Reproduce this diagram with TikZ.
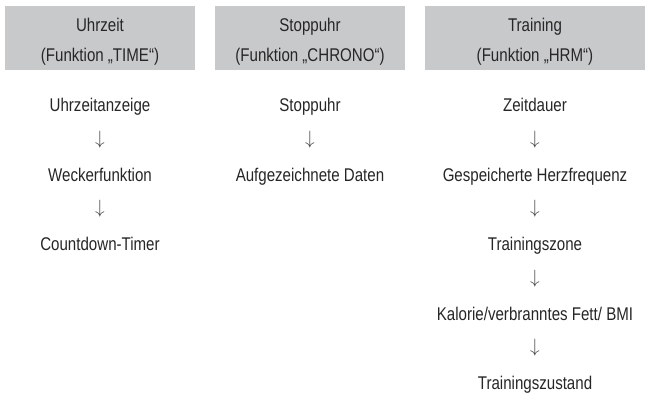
\documentclass[tikz,border=0pt]{standalone}
\usepackage{fontspec}
\setmainfont{Liberation Sans}[FakeStretch=0.82]
\definecolor{hdr}{HTML}{C8C9CA}
\definecolor{txt}{HTML}{262626}
\begin{document}
\begin{tikzpicture}[x=0.75pt,y=-0.75pt,
  lbl/.style={font=\fontsize{13.8}{16}\selectfont, text=txt, inner sep=0pt, anchor=base},
  arr/.style={font=\fontsize{14}{16}\selectfont, text=txt!85, inner sep=0pt, anchor=center},
  hbox/.style={fill=hdr, draw=none}]
\useasboundingbox (0,0) rectangle (645,392);
% header boxes
\path[hbox] (5,6) rectangle (195,70);
\path[hbox] (215,6) rectangle (405,70);
\path[hbox] (425,6) rectangle (645,70);
% headers
\node[lbl] (h1a) at (100,32) {Uhrzeit};
\node[lbl] (h1b) at (100,62) {(Funktion „TIME“)};
\node[lbl] (h2a) at (310,32) {Stoppuhr};
\node[lbl] (h2b) at (310,62) {(Funktion „CHRONO“)};
\node[lbl] (h3a) at (535,32) {Training};
\node[lbl] (h3b) at (535,62) {(Funktion „HRM“)};
% column 1
\node[lbl] (a1) at (100,112) {Uhrzeitanzeige};
\node[arr] (a1x) at (100,140) {$\downarrow$};
\node[lbl] (a2) at (100,181) {Weckerfunktion};
\node[arr] (a2x) at (100,209) {$\downarrow$};
\node[lbl] (a3) at (100,250) {Countdown-Timer};
% column 2
\node[lbl] (b1) at (310,112) {Stoppuhr};
\node[arr] (b1x) at (310,140) {$\downarrow$};
\node[lbl] (b2) at (310,181) {Aufgezeichnete Daten};
% column 3
\node[lbl] (c1) at (535,112) {Zeitdauer};
\node[arr] (c1x) at (535,140) {$\downarrow$};
\node[lbl] (c2) at (535,181) {Gespeicherte Herzfrequenz};
\node[arr] (c2x) at (535,209) {$\downarrow$};
\node[lbl] (c3) at (535,250) {Trainingszone};
\node[arr] (c3x) at (535,278.5) {$\downarrow$};
\node[lbl] (c4) at (535,320) {Kalorie/verbranntes Fett/ BMI};
\node[arr] (c4x) at (535,348) {$\downarrow$};
\node[lbl] (c5) at (535,389) {Trainingszustand};
\end{tikzpicture}
\end{document}
